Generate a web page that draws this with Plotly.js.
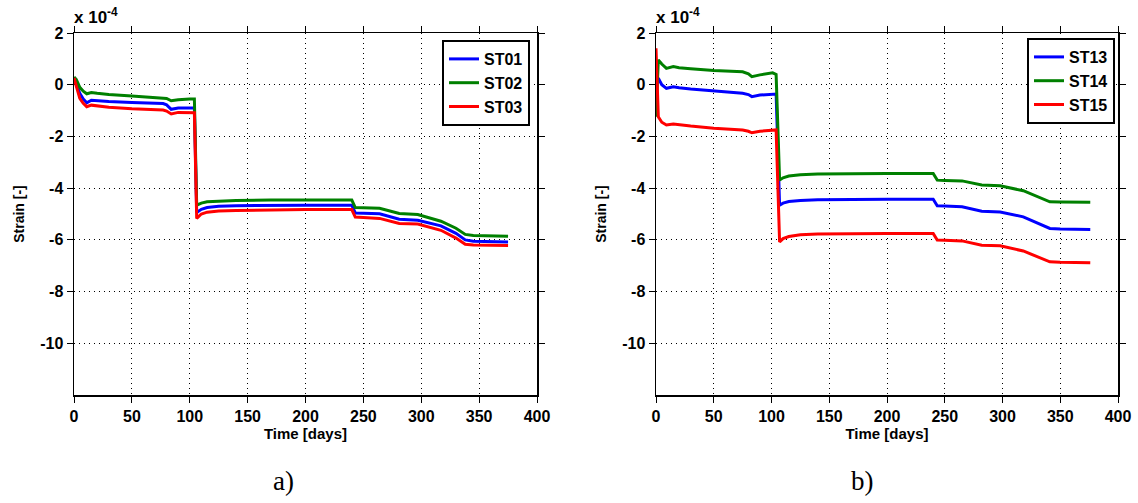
<!DOCTYPE html>
<html>
<head>
<meta charset="utf-8">
<script src="https://cdn.plot.ly/plotly-3.0.1.min.js"></script>
<style>html,body{margin:0;padding:0;background:#fff;}#chart{width:1138px;height:503px;}</style>
</head>
<body>
<div id="chart"></div>
<script>
// Panel a) time (days) and strain values (x 1e-4)
const timeA = [0, 2, 5, 8, 11, 15, 20, 30, 50, 77, 80, 84, 90, 100, 104, 106, 110, 115, 125, 140, 170, 200, 240, 243, 250, 264, 281, 297, 317, 330, 338, 345, 375];
const st01 = [0.25, 0.0, -0.33, -0.55, -0.7, -0.6, -0.62, -0.65, -0.69, -0.73, -0.78, -0.95, -0.9, -0.9, -0.9, -4.94, -4.82, -4.75, -4.7, -4.68, -4.66, -4.66, -4.66, -4.96, -4.97, -4.99, -5.2, -5.24, -5.46, -5.75, -6.0, -6.05, -6.08];
const st02 = [0.3, 0.2, -0.1, -0.25, -0.35, -0.3, -0.33, -0.38, -0.44, -0.5, -0.53, -0.62, -0.58, -0.55, -0.55, -4.66, -4.58, -4.53, -4.5, -4.48, -4.46, -4.46, -4.46, -4.75, -4.76, -4.78, -4.98, -5.02, -5.28, -5.55, -5.79, -5.83, -5.86];
const st03 = [0.26, -0.1, -0.53, -0.72, -0.85, -0.79, -0.82, -0.87, -0.93, -0.98, -1.02, -1.13, -1.07, -1.08, -1.08, -5.17, -5.0, -4.93, -4.88, -4.86, -4.84, -4.83, -4.83, -5.12, -5.14, -5.17, -5.37, -5.39, -5.63, -5.93, -6.17, -6.2, -6.22];

// Panel b)
const timeB = [0, 2, 5, 9, 15, 20, 30, 50, 75, 80, 83, 90, 101, 104, 107, 110, 115, 125, 140, 170, 200, 240, 243.5, 250, 265, 282, 298, 318, 330, 341, 350, 376];
const st13 = [0.1, 0.25, 0.0, -0.14, -0.08, -0.12, -0.17, -0.24, -0.33, -0.38, -0.46, -0.4, -0.36, -0.36, -4.66, -4.58, -4.52, -4.48, -4.45, -4.43, -4.43, -4.43, -4.68, -4.69, -4.72, -4.89, -4.92, -5.11, -5.33, -5.56, -5.58, -5.6];
const st14 = [-1.24, 0.96, 0.8, 0.63, 0.7, 0.66, 0.62, 0.55, 0.5, 0.42, 0.31, 0.38, 0.46, 0.4, -3.69, -3.6, -3.53, -3.48, -3.45, -3.43, -3.43, -3.43, -3.69, -3.7, -3.72, -3.88, -3.91, -4.1, -4.32, -4.53, -4.54, -4.55];
const st15 = [1.41, -1.24, -1.45, -1.56, -1.52, -1.55, -1.6, -1.68, -1.75, -1.8, -1.86, -1.8, -1.75, -1.75, -6.08, -5.95, -5.87, -5.8, -5.77, -5.75, -5.75, -5.75, -6.01, -6.02, -6.04, -6.21, -6.23, -6.43, -6.65, -6.85, -6.87, -6.89];

const xTicks = [0, 50, 100, 150, 200, 250, 300, 350, 400];
const yTicks = [-10, -8, -6, -4, -2, 0, 2];

const BLUE = '#0000ff', GREEN = '#008000', RED = '#ff0000';
const FONT = 'Liberation Sans, Arial, sans-serif';

function tr(x, y, name, color, xa, ya, legend) {
  return {x: x, y: y, name: '<b>' + name + '</b>', type: 'scatter', mode: 'lines',
    line: {color: color, width: 3}, xaxis: xa, yaxis: ya, legend: legend};
}

const data = [
  tr(timeA, st01, 'ST01', BLUE, 'x', 'y', 'legend'),
  tr(timeA, st02, 'ST02', GREEN, 'x', 'y', 'legend'),
  tr(timeA, st03, 'ST03', RED, 'x', 'y', 'legend'),
  tr(timeB, st13, 'ST13', BLUE, 'x2', 'y2', 'legend2'),
  tr(timeB, st14, 'ST14', GREEN, 'x2', 'y2', 'legend2'),
  tr(timeB, st15, 'ST15', RED, 'x2', 'y2', 'legend2')
];

const W = 1138, H = 503;
const yTop = 1 - 33 / H, yBot = 1 - 395 / H;
const bold = v => '<b>' + v + '</b>';

function xax(dom, anchor) {
  return {domain: dom, anchor: anchor, range: [0, 400], tickvals: xTicks, ticktext: xTicks.map(bold),
    showline: true, linecolor: '#000', linewidth: 1.5, mirror: 'ticks', ticks: 'outside', ticklen: 6, tickwidth: 1, tickcolor: '#000',
    showgrid: true, gridcolor: '#000', gridwidth: 1, griddash: '1px,4px', zeroline: false,
    tickfont: {family: FONT, size: 16, color: '#000', weight: 'bold'},
    title: {text: '<b>Time [days]</b>', font: {family: FONT, size: 15, color: '#000'}, standoff: 4}};
}
function yax(dom, anchor) {
  return {domain: dom, anchor: anchor, range: [-12, 2], tickvals: yTicks, ticktext: yTicks.map(bold),
    showline: true, linecolor: '#000', linewidth: 1.5, mirror: 'ticks', ticks: 'outside', ticklen: 6, tickwidth: 1, tickcolor: '#000',
    showgrid: true, gridcolor: '#000', gridwidth: 1, griddash: '1px,4px', zeroline: false,
    tickfont: {family: FONT, size: 16, color: '#000', weight: 'bold'},
    title: {text: '<b>Strain [-]</b>', font: {family: FONT, size: 14, color: '#000'}, standoff: 12}};
}

const legendStyle = {bgcolor: '#fff', bordercolor: '#000', borderwidth: 2,
  font: {family: FONT, size: 16, color: '#000'}, xanchor: 'right', yanchor: 'top',
  tracegroupgap: 0, itemwidth: 30};

const layout = {
  width: W, height: H,
  margin: {l: 0, r: 0, t: 0, b: 0},
  paper_bgcolor: '#fff', plot_bgcolor: '#fff',
  showlegend: true,
  xaxis: xax([74 / W, 537 / W], 'y'),
  yaxis: yax([yBot, yTop], 'x'),
  xaxis2: xax([656 / W, 1118 / W], 'y2'),
  yaxis2: yax([yBot, yTop], 'x2'),
  legend: Object.assign({}, legendStyle, {x: 530 / W, y: 1 - 40 / H}),
  legend2: Object.assign({}, legendStyle, {x: 1115 / W, y: 1 - 38 / H}),
  annotations: [
    {text: '<b>x 10<sup>-4</sup></b>', xref: 'paper', yref: 'paper', x: 72 / W, y: 1 - 16 / H, xanchor: 'left', yanchor: 'middle', showarrow: false, font: {family: FONT, size: 17, color: '#000'}},
    {text: '<b>x 10<sup>-4</sup></b>', xref: 'paper', yref: 'paper', x: 654 / W, y: 1 - 16 / H, xanchor: 'left', yanchor: 'middle', showarrow: false, font: {family: FONT, size: 17, color: '#000'}},
    {text: 'a)', xref: 'paper', yref: 'paper', x: 283 / W, y: 1 - 481 / H, xanchor: 'center', yanchor: 'middle', showarrow: false, font: {family: 'Liberation Serif, Times New Roman, serif', size: 27, color: '#000'}},
    {text: 'b)', xref: 'paper', yref: 'paper', x: 862 / W, y: 1 - 481 / H, xanchor: 'center', yanchor: 'middle', showarrow: false, font: {family: 'Liberation Serif, Times New Roman, serif', size: 27, color: '#000'}}
  ]
};

Plotly.newPlot('chart', data, layout, {staticPlot: true, displayModeBar: false});
</script>
</body>
</html>
